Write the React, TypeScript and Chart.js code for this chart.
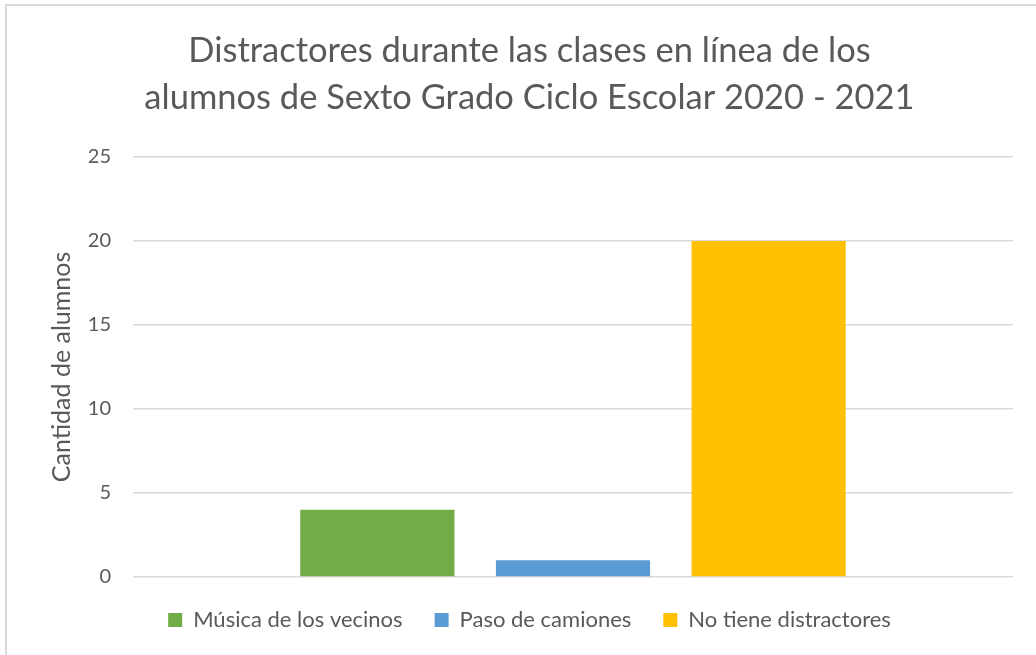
import React, { useEffect, useRef } from "react";
import { Chart, registerables } from "chart.js";

Chart.register(...registerables);

const categories = [""];
const seriesNames = ["Música de los vecinos", "Paso de camiones", "No tiene distractores"];
const musicaValues = [4];
const camionesValues = [1];
const noTieneValues = [20];
const seriesColors = ["#70AD47", "#5B9BD5", "#FFC000"];
const titleLines = [
  "Distractores durante las clases en línea de los",
  "alumnos de Sexto Grado Ciclo Escolar 2020 - 2021",
];
const yAxisTitle = "Cantidad de alumnos";

const FONT = "Lato, 'Open Sans', sans-serif";
const GRAY = "#595959";

const legendHeightFix = {
  id: "legendHeightFix",
  beforeLayout(chart: any) {
    const lg = chart.legend;
    if (lg && !lg.__patched) {
      const orig = lg.fit.bind(lg);
      lg.fit = function () {
        orig();
        this.height = 78;
      };
      lg.__patched = true;
    }
  },
};

export default function App() {
  const ref = useRef<HTMLCanvasElement | null>(null);

  useEffect(() => {
    document.body.style.margin = "0";
    if (!ref.current) return;
    const values = [musicaValues, camionesValues, noTieneValues];
    const chart = new Chart(ref.current, {
      type: "bar",
      data: {
        labels: categories,
        datasets: seriesNames.map((name, i) => ({
          label: name,
          data: values[i],
          backgroundColor: seriesColors[i],
          borderWidth: 0,
          categoryPercentage: 0.667,
          barPercentage: 0.788,
        })),
      },
      plugins: [legendHeightFix],
      options: {
        animation: false,
        responsive: false,
        maintainAspectRatio: false,
        layout: { padding: { left: 46, right: 23, top: 27, bottom: 0 } },
        plugins: {
          title: {
            display: true,
            text: titleLines,
            color: GRAY,
            font: { family: FONT, size: 34.5, weight: "normal", lineHeight: 1.362 },
            padding: { top: 0, bottom: 36 },
          },
          legend: {
            position: "bottom",
            labels: {
              color: GRAY,
              font: { family: FONT, size: 22 },
              boxWidth: 14,
              boxHeight: 14,
              padding: 32,
            },
          },
          tooltip: { enabled: false },
        },
        scales: {
          x: {
            display: false,
          },
          y: {
            min: 0,
            max: 25,
            ticks: {
              stepSize: 5,
              color: GRAY,
              font: { family: FONT, size: 20 },
              padding: 22,
            },
            grid: { color: "#D9D9D9", lineWidth: 1.5, drawTicks: false },
            border: { display: false },
            title: {
              display: true,
              text: yAxisTitle,
              color: GRAY,
              font: { family: FONT, size: 25 },
              padding: { top: 1, bottom: 10 },
            },
            afterFit: (scale: any) => {
              scale.width = 87;
            },
          },
        },
      },
    });
    return () => chart.destroy();
  }, []);

  return (
    <div style={{ position: "relative", width: 1036, height: 655, background: "#fff", overflow: "hidden" }}>
      <div
        style={{
          position: "absolute",
          left: 5,
          top: 4,
          width: 1100,
          height: 700,
          border: "2px solid #D9D9D9",
          boxSizing: "border-box",
        }}
      />
      <canvas ref={ref} width={1036} height={655} style={{ position: "absolute", left: 0, top: 0 }} />
    </div>
  );
}
